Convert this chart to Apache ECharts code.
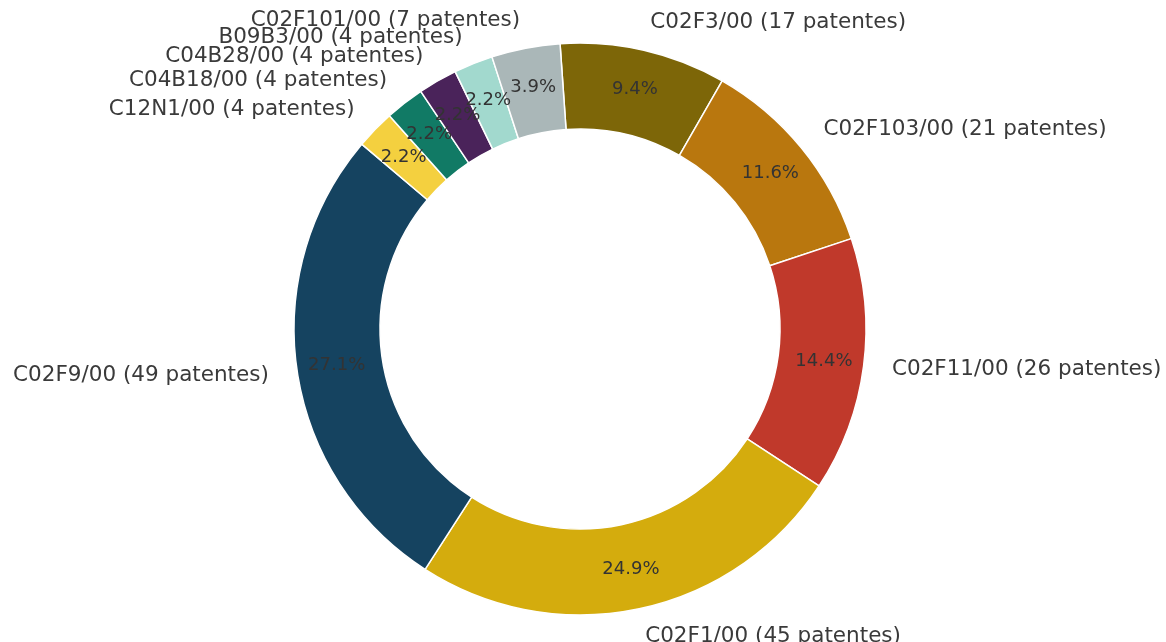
<!DOCTYPE html>
<html>
<head>
<meta charset="utf-8">
<script src="https://cdn.jsdelivr.net/npm/echarts@6/dist/echarts.min.js"></script>
<style>
  html, body { margin: 0; padding: 0; background: #ffffff; }
  #chart { width: 1166px; height: 642px; }
</style>
</head>
<body>
<div id="chart"></div>
<script>
// IPC codes and number of patents per code (clockwise from the top)
const categories = [
  'C02F3/00', 'C02F103/00', 'C02F11/00', 'C02F1/00', 'C02F9/00',
  'C12N1/00', 'C04B18/00', 'C04B28/00', 'B09B3/00', 'C02F101/00'
];
const patentCounts = [17, 21, 26, 45, 49, 4, 4, 4, 4, 7];
const sliceColors = [
  '#7d6608', '#b9770e', '#c0392b', '#d4ac0d', '#154360',
  '#f4d03f', '#117a65', '#4a235a', '#a2d9ce', '#aab7b8'
];

const total = patentCounts.reduce((a, b) => a + b, 0);
const data = categories.map((name, i) => ({
  name: name,
  value: patentCounts[i],
  itemStyle: { color: sliceColors[i] }
}));

const CENTER = [580, 329];
const R_OUT = 286;
const R_IN = 200;
const FONT = 'DejaVu Sans';

const chart = echarts.init(document.getElementById('chart'), null, { renderer: 'canvas' });
chart.setOption({
  backgroundColor: '#ffffff',
  animation: false,
  series: [
    {
      // ring with percentage labels inside each slice
      type: 'pie',
      center: CENTER,
      radius: [R_IN, R_OUT],
      startAngle: 94,
      clockwise: true,
      avoidLabelOverlap: false,
      silent: true,
      labelLayout: { hideOverlap: false },
      itemStyle: { borderColor: '#ffffff', borderWidth: 1.5 },
      label: {
        show: true,
        position: 'inside',
        fontFamily: FONT,
        fontSize: 18,
        color: '#333333',
        formatter: p => (p.value / total * 100).toFixed(1) + '%'
      },
      labelLine: { show: false },
      data: data
    },
    {
      // same slices, invisible, only carrying the outer name labels
      type: 'pie',
      center: CENTER,
      radius: [R_IN, R_OUT],
      startAngle: 94,
      clockwise: true,
      avoidLabelOverlap: false,
      silent: true,
      labelLayout: { hideOverlap: false },
      itemStyle: { color: 'rgba(0,0,0,0)', borderWidth: 0 },
      label: {
        show: true,
        position: 'outside',
        distanceToLabelLine: 0,
        fontFamily: FONT,
        fontSize: 21.5,
        color: '#3a3a3a',
        formatter: p => p.name + ' (' + p.value + ' patentes)'
      },
      labelLine: { show: false, length: R_OUT * 0.1, length2: 0 },
      data: data.map(d => ({ name: d.name, value: d.value }))
    }
  ]
});
</script>
</body>
</html>
